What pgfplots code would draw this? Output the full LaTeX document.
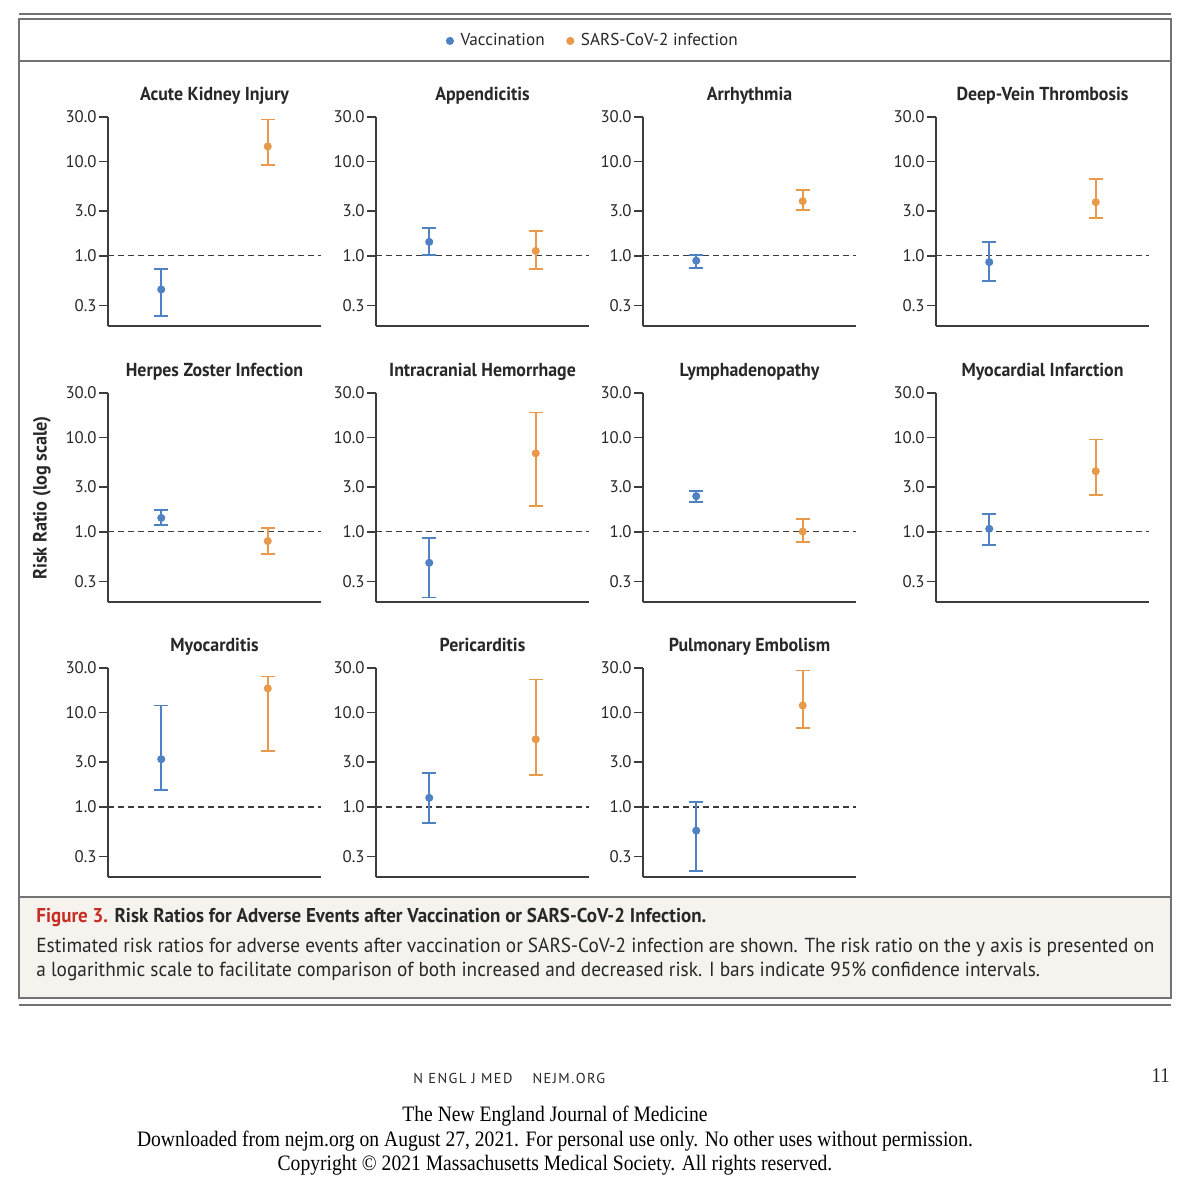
\documentclass[border=0pt]{standalone}
\usepackage{pgfplots}
\pgfplotsset{compat=1.18}
\usepackage{fontspec}
\usepackage{graphicx}
\setmainfont{PT Sans}
\newfontfamily\titlefont[FakeStretch=0.95]{PT Sans}
\newfontfamily\capfont[FakeStretch=0.95]{PT Sans}
\newfontfamily\serifc[FakeStretch=0.89]{Liberation Serif}
\newfontfamily\footsans[LetterSpace=10]{PT Sans}
\definecolor{vacc}{RGB}{79,129,196}
\definecolor{sars}{RGB}{233,153,74}
\definecolor{axgray}{RGB}{60,60,60}
\definecolor{rulegray}{RGB}{115,115,115}
\definecolor{capbg}{RGB}{246,243,239}
\definecolor{nejmred}{RGB}{200,45,35}
\definecolor{txt}{RGB}{40,40,40}

\tikzset{
  rrBar/.style={line width=0.8pt, mark=-, mark size=3.5pt, mark options={solid, line width=0.8pt}},
  rrDot/.style={mark=*, mark size=1.8pt},
  rrRef/.style={axgray, dash pattern=on 3pt off 2pt, line width=0.55pt},
}

% #1 x, #2 y, #3 title, #4 v, #5 vlo, #6 vhi, #7 s, #8 slo, #9 shi
\newcommand{\panel}[9]{%
\begin{axis}[scale only axis, width=106.5pt, height=104.5pt,
    ymode=log, xmin=0, xmax=4, ymin=0.18, ymax=30,
    axis x line=bottom, axis y line=left, axis line style={-, axgray, line width=0.75pt},
    xtick=\empty, ytick={0.3,1,3,10,30},
    yticklabels={0.3,1.0,3.0,10.0,30.0},
    minor ytick={},
    tick align=outside, major tick length=4.5pt,
    tick style={axgray, line width=0.6pt},
    yticklabel style={font=\fontsize{8.4}{9}\selectfont, text=txt, inner sep=1pt},
    title style={at={(0.5,1)}, anchor=base, yshift=2.5pt, inner sep=0pt,
      font=\titlefont\bfseries\fontsize{9.4}{11}\selectfont, text=txt},
    clip=false, at={(#1,#2)}, anchor=south west, title={#3}]
\addplot[rrRef, forget plot] coordinates {(0,1) (4,1)};
\addplot[vacc, rrBar, forget plot] coordinates {(1,#5) (1,#6)};
\addplot[vacc, only marks, rrDot] coordinates {(1,#4)};
\addplot[sars, rrBar, forget plot] coordinates {(3,#8) (3,#9)};
\addplot[sars, only marks, rrDot] coordinates {(3,#7)};
\ifdim#1=54pt\ifdim#2=-163pt
\legend{Vaccination,SARS-CoV-2 infection}
\fi\fi
\end{axis}}

\pgfplotsset{legend style={at={(2.282,1.364)}, anchor=center, draw=none, fill=none,
    legend columns=2, font=\fontsize{8.6}{10}\selectfont, text=txt,
    /tikz/every odd column/.append style={column sep=1.5pt},
    /tikz/every even column/.append style={column sep=9pt}},
  legend cell align=left}

\begin{document}
\begin{tikzpicture}[x=0.5pt, y=-0.5pt]
\useasboundingbox (0,0) rectangle (1200,1181);
\fill[white] (0,0) rectangle (1200,1181);
% frame
\fill[capbg] (19,897) rectangle (1171,998);
\draw[rulegray, line width=1.1pt] (19,14) -- (1171,14);
\draw[rulegray, line width=0.9pt] (19,19) rectangle (1171,998);
\draw[rulegray, line width=0.9pt] (19,61) -- (1171,61);
\draw[rulegray, line width=0.9pt] (19,897) -- (1171,897);
\draw[rulegray, line width=1.1pt] (19,1005) -- (1171,1005);

\panel{54pt}{-163pt}{Acute Kidney Injury}{0.44}{0.23}{0.73}{14.6}{9.2}{28.2}
\panel{188pt}{-163pt}{Appendicitis}{1.41}{1.02}{1.98}{1.13}{0.73}{1.84}
\panel{321.5pt}{-163pt}{Arrhythmia}{0.89}{0.75}{1.02}{3.82}{3.07}{5.0}
\panel{468pt}{-163pt}{Deep-Vein Thrombosis}{0.86}{0.54}{1.41}{3.73}{2.52}{6.53}

\panel{54pt}{-301pt}{Herpes Zoster Infection}{1.41}{1.19}{1.71}{0.80}{0.585}{1.10}
\panel{188pt}{-301pt}{Intracranial Hemorrhage}{0.47}{0.20}{0.86}{6.86}{1.88}{18.6}
\panel{321.5pt}{-301pt}{Lymphadenopathy}{2.40}{2.08}{2.72}{1.01}{0.78}{1.37}
\panel{468pt}{-301pt}{Myocardial Infarction}{1.08}{0.73}{1.55}{4.42}{2.46}{9.64}

\panel{54pt}{-438.5pt}{Myocarditis}{3.22}{1.51}{12.0}{18.2}{3.91}{24.3}
\panel{188pt}{-438.5pt}{Pericarditis}{1.25}{0.68}{2.29}{5.24}{2.18}{22.6}
\panel{321.5pt}{-438.5pt}{Pulmonary Embolism}{0.56}{0.21}{1.13}{12.0}{6.86}{28.2}

% y label
\node[rotate=90, font=\titlefont\bfseries\fontsize{9.6}{11}\selectfont, text=txt] at (42,498) {Risk Ratio (log scale)};

% caption
\node[anchor=base west, inner sep=0pt, font=\capfont\bfseries\fontsize{10}{12}\selectfont, text=txt] at (36,922)
  {\textcolor{nejmred}{Figure 3.} Risk Ratios for Adverse Events after Vaccination or SARS-CoV-2 Infection.};
\node[anchor=base west, inner sep=0pt, font=\capfont\fontsize{10.15}{12}\selectfont, text=txt] at (36,952)
  {\makebox[559pt][s]{Estimated risk ratios for adverse events after vaccination or SARS-CoV-2 infection are shown. The risk ratio on the y axis is presented on}};
\node[anchor=base west, inner sep=0pt, font=\capfont\fontsize{10.15}{12}\selectfont, text=txt] at (36,976)
  {a logarithmic scale to facilitate comparison of both increased and decreased risk. I bars indicate 95\% confidence intervals.};

% footer
\node[anchor=base west, inner sep=0pt, font=\footsans\fontsize{7.2}{8}\selectfont, text=txt] at (413,1083)
  {N ENGL J MED\hspace{10pt}NEJM.ORG};
\node[anchor=base east, inner sep=0pt, font=\serifc\fontsize{10.5}{12}\selectfont, text=txt] at (1170,1082) {11};
\node[anchor=base, inner sep=0pt, font=\serifc\fontsize{11}{12}\selectfont, text=black] at (555,1121)
  {The New England Journal of Medicine};
\node[anchor=base, inner sep=0pt, font=\serifc\fontsize{11}{12}\selectfont, text=black] at (555,1146)
  {Downloaded from nejm.org on August 27, 2021. For personal use only. No other uses without permission.};
\node[anchor=base, inner sep=0pt, font=\serifc\fontsize{11}{12}\selectfont, text=black] at (555,1170)
  {Copyright \textcopyright\ 2021 Massachusetts Medical Society. All rights reserved.};
\end{tikzpicture}
\end{document}
